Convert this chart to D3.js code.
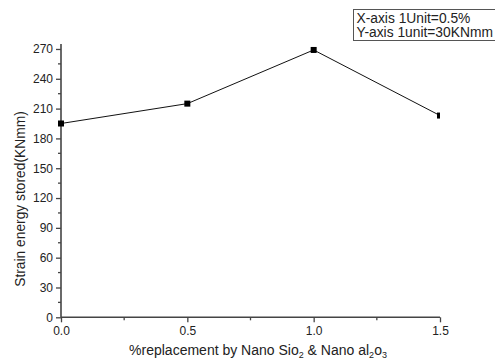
<!DOCTYPE html>
<html>
<head>
<meta charset="utf-8">
<script src="https://cdn.jsdelivr.net/npm/d3@7/dist/d3.min.js"></script>
<style>
  body { margin: 0; background: #fff; }
  text { font-family: "Liberation Sans", Arial, sans-serif; fill: #222; }
</style>
</head>
<body>
<div id="chart"></div>
<script>
// DATA
const replacement = [0.0, 0.5, 1.0, 1.5];
const strainEnergy = [195, 215, 269, 203];
const xTicks = [0.0, 0.5, 1.0, 1.5];
const yTicks = [0, 30, 60, 90, 120, 150, 180, 210, 240, 270];
const legendLines = ["X-axis 1Unit=0.5%", "Y-axis 1unit=30KNmm"];

const W = 495, H = 364;
const margin = { top: 44, right: 55, bottom: 46.7, left: 61 };
const width = W - margin.left - margin.right;
const height = H - margin.top - margin.bottom;

const svg = d3.select("#chart").append("svg")
  .attr("width", W).attr("height", H);

const g = svg.append("g")
  .attr("transform", `translate(${margin.left},${margin.top})`);

const x = d3.scaleLinear().domain([0, 1.5]).range([0, width]);
const y = d3.scaleLinear().domain([0, 275]).range([height, 0]);

// clip so the last marker is cut at the axis end
svg.append("defs").append("clipPath").attr("id", "plotClip")
  .append("rect").attr("x", -10).attr("y", -10)
  .attr("width", width + 10).attr("height", height + 20);

// Y axis
const yAxis = g.append("g")
  .call(d3.axisLeft(y).tickValues(yTicks).tickFormat(d3.format("d")).tickSize(5).tickPadding(3));
yAxis.append("g").selectAll("line")
  .data(d3.range(15, 275, 30))
  .join("line")
  .attr("x1", 0).attr("x2", -3)
  .attr("y1", d => y(d)).attr("y2", d => y(d))
  .attr("stroke", "#444").attr("stroke-width", 1.3);

// X axis
const xAxis = g.append("g")
  .attr("transform", `translate(0,${height})`)
  .call(d3.axisBottom(x).tickValues(xTicks).tickFormat(d3.format(".1f")).tickSize(5).tickPadding(4));
xAxis.append("g").selectAll("line")
  .data([0.25, 0.75, 1.25])
  .join("line")
  .attr("x1", d => x(d)).attr("x2", d => x(d))
  .attr("y1", 0).attr("y2", 3)
  .attr("stroke", "#444").attr("stroke-width", 1.3);

[yAxis, xAxis].forEach(a => {
  a.select(".domain").attr("stroke", "#444").attr("stroke-width", 1.6);
  a.selectAll(".tick line").attr("stroke", "#444").attr("stroke-width", 1.3);
  a.selectAll(".tick text").style("font-size", "12px")
    .style("font-family", "Liberation Sans, Arial, sans-serif").attr("fill", "#222");
});
yAxis.select(".domain").attr("d", `M0,${y(275)}V${height}`);
xAxis.select(".domain").attr("d", `M0,0H${width}`);

// Line and markers
const pts = replacement.map((v, i) => ({ x: v, y: strainEnergy[i] }));
const plot = g.append("g").attr("clip-path", "url(#plotClip)");
plot.append("path")
  .datum(pts)
  .attr("fill", "none")
  .attr("stroke", "#111")
  .attr("stroke-width", 1)
  .attr("d", d3.line().x(d => x(d.x)).y(d => y(d.y)));
plot.selectAll(".dot")
  .data(pts)
  .join("rect")
  .attr("class", "dot")
  .attr("x", d => x(d.x) - 3)
  .attr("y", d => y(d.y) - 3)
  .attr("width", 6).attr("height", 6)
  .attr("fill", "#000");

// Axis titles
svg.append("text")
  .attr("transform", "translate(25,199) rotate(-90)")
  .attr("text-anchor", "middle")
  .style("font-size", "13.8px")
  .text("Strain energy stored(KNmm)");

const xt = svg.append("text")
  .attr("x", 258)
  .attr("y", 355)
  .attr("text-anchor", "middle")
  .style("font-size", "14px");
xt.append("tspan").text("%replacement by Nano Sio");
xt.append("tspan").attr("dy", 3).style("font-size", "9px").text("2");
xt.append("tspan").attr("dy", -3).text(" & Nano al");
xt.append("tspan").attr("dy", 3).style("font-size", "9px").text("2");
xt.append("tspan").attr("dy", -3).text("o");
xt.append("tspan").attr("dy", 3).style("font-size", "9px").text("3");

// Legend box
const lg = svg.append("g").attr("transform", "translate(353.5,9.5)");
lg.append("rect")
  .attr("width", 150).attr("height", 31)
  .attr("fill", "#fff")
  .attr("stroke", "#555").attr("stroke-width", 1);
lg.selectAll("text")
  .data(legendLines)
  .join("text")
  .attr("x", 3)
  .attr("y", (d, i) => 13.5 + i * 14)
  .style("font-size", "13.8px")
  .text(d => d);
</script>
</body>
</html>
